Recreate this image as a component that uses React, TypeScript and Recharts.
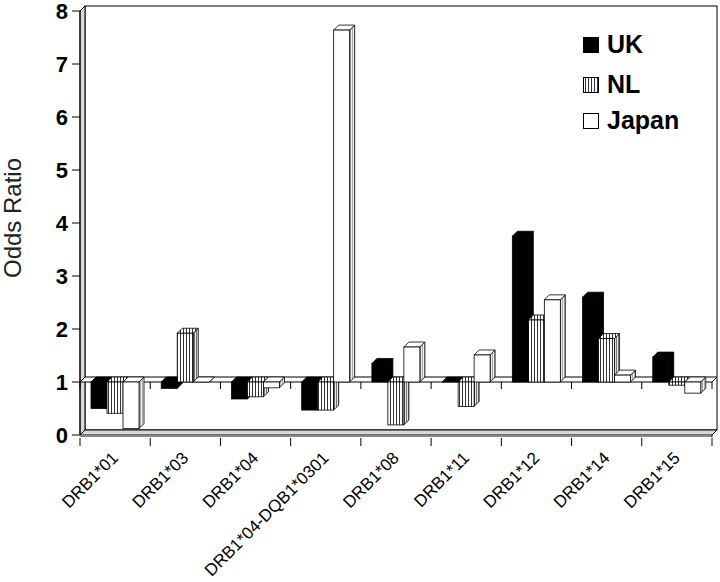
import React from 'react';
import { ComposedChart, Bar, XAxis, YAxis, ReferenceArea, ReferenceLine } from 'recharts';

const categories = ['DRB1*01', 'DRB1*03', 'DRB1*04', 'DRB1*04-DQB1*0301', 'DRB1*08', 'DRB1*11', 'DRB1*12', 'DRB1*14', 'DRB1*15'];
const ukValues = [0.5, 0.88, 0.68, 0.47, 1.35, 1.0, 3.75, 2.6, 1.47];
const nlValues = [0.41, 1.92, 0.72, 0.47, 0.19, 0.54, 2.17, 1.82, 0.94];
const japanValues = [0.12, 1.0, 0.89, 7.64, 1.66, 1.51, 2.55, 1.13, 0.79];
const yTicks = [0, 1, 2, 3, 4, 5, 6, 7, 8];
const seriesNames = ['UK', 'NL', 'Japan'];
const BASE_VALUE = 1;

const W = 720;
const H = 582;
const MARGIN = { top: 11, right: 8, bottom: 0, left: 0 };
const Y_AXIS_W = 80;
const X_AXIS_H = 147;
const PLOT_W = W - MARGIN.left - MARGIN.right - Y_AXIS_W;
const BAND = PLOT_W / categories.length;
const D = 5;
const FONT = '"Liberation Sans", Arial, Helvetica, sans-serif';

const toRange = (v: number) => [Math.min(BASE_VALUE, v), Math.max(BASE_VALUE, v)];
const data = categories.map((c, i) => ({
  category: c,
  UK: toRange(ukValues[i]),
  NL: toRange(nlValues[i]),
  Japan: toRange(japanValues[i]),
}));

const make3D = (front: string, side: string, top: string) => (props: any) => {
  const { x, y, width, height } = props;
  if (x == null || y == null || width == null) return <g />;
  const h = Math.max(0, height || 0);
  return (
    <g>
      <polygon
        points={`${x + width},${y} ${x + width + D},${y - D} ${x + width + D},${y + h - D} ${x + width},${y + h}`}
        fill={side}
        stroke="#000"
        strokeWidth={0.8}
      />
      <polygon
        points={`${x},${y} ${x + D},${y - D} ${x + width + D},${y - D} ${x + width},${y}`}
        fill={top}
        stroke="#000"
        strokeWidth={0.8}
      />
      <rect x={x} y={y} width={width} height={h} fill={front} stroke="#000" strokeWidth={0.8} />
    </g>
  );
};

const FrameShape = (props: any) => {
  const { x, y, width, height } = props;
  if (x == null) return <g />;
  return (
    <g>
      <rect x={x + D} y={y - D} width={width} height={height} fill="#fff" stroke="#000" strokeWidth={1} />
      <polygon
        points={`${x},${y} ${x + D},${y - D} ${x + D},${y + height - D} ${x},${y + height}`}
        fill="#d9d9d9"
        stroke="#000"
        strokeWidth={1}
      />
      <polygon
        points={`${x},${y + height} ${x + D},${y + height - D} ${x + width + D},${y + height - D} ${x + width},${y + height}`}
        fill="#d9d9d9"
        stroke="#000"
        strokeWidth={1}
      />
      <rect x={x} y={y + height} width={width} height={2} fill="#888" />
      <line x1={x + width} y1={y + height} x2={x + width} y2={y + height + 2} stroke="#000" />
    </g>
  );
};

const PlaneShape = (props: any) => {
  const { x1, y1, x2 } = props;
  if (x1 == null) return <g />;
  const ticks = [];
  for (let i = 0; i <= categories.length; i++) {
    const tx = x1 + ((x2 - x1) * i) / categories.length;
    ticks.push(<line key={i} x1={tx} y1={y1} x2={tx} y2={y1 + 7} stroke="#000" strokeWidth={1} />);
  }
  return (
    <g>
      <polygon
        points={`${x1},${y1} ${x1 + D},${y1 - D} ${x2 + D},${y1 - D} ${x2},${y1}`}
        fill="#fff"
        stroke="#000"
        strokeWidth={1}
      />
      {ticks}
    </g>
  );
};

const XTick = (props: any) => {
  const { x, y, payload, index } = props;
  const half = BAND / 2;
  const tx = x + 4;
  const ty = y + 24;
  return (
    <g>
      <line x1={x - half} y1={y + 3} x2={x - half} y2={y + 11} stroke="#000" />
      {index === categories.length - 1 && (
        <line x1={x + half} y1={y + 3} x2={x + half} y2={y + 11} stroke="#000" />
      )}
      <text
        x={tx}
        y={ty}
        textAnchor="end"
        transform={`rotate(-45 ${tx} ${ty})`}
        fontSize={17}
        fontFamily={FONT}
        fill="#000"
      >
        {payload.value}
      </text>
    </g>
  );
};

const YLabel = () => (
  <text
    x={21}
    y={218}
    transform="rotate(-90 21 218)"
    textAnchor="middle"
    fontSize={24}
    fontFamily={FONT}
    fill="#222"
  >
    Odds Ratio
  </text>
);

const legendFills = ['#000', 'url(#legStripes)', '#fff'];
const legendRows = [53, 93, 129];

const LegendOverlay = () => (
  <svg width={W} height={H} style={{ position: 'absolute', left: 0, top: 0, pointerEvents: 'none' }}>
    <defs>
      <pattern id="legStripes" width="3" height="4" patternUnits="userSpaceOnUse">
        <rect width="3" height="4" fill="#fff" />
        <rect x="0" width="1" height="4" fill="#333" />
      </pattern>
    </defs>
    {seriesNames.map((name, i) => (
      <g key={name}>
        <rect x={583.5} y={legendRows[i] - 15.5} width={15} height={15} fill={legendFills[i]} stroke="#000" strokeWidth={1} />
        <text x={607} y={legendRows[i]} fontSize={25} fontWeight="bold" fontFamily={FONT} fill="#000">
          {name}
        </text>
      </g>
    ))}
  </svg>
);

export default function App() {
  return (
    <div style={{ position: 'absolute', left: 0, top: 0, width: W, height: H, background: '#fff' }}>
      <ComposedChart width={W} height={H} data={data} margin={MARGIN} barGap={0} barSize={16}>
        <defs>
          <pattern id="nlStripes" width="3" height="4" patternUnits="userSpaceOnUse">
            <rect width="3" height="4" fill="#fff" />
            <rect x="0" width="1" height="4" fill="#333" />
          </pattern>
          <pattern id="nlSide" width="2" height="4" patternUnits="userSpaceOnUse">
            <rect width="2" height="4" fill="#e6e6e6" />
            <rect x="0" width="1" height="4" fill="#777" />
          </pattern>
          <pattern id="jpSide" width="2" height="4" patternUnits="userSpaceOnUse">
            <rect width="2" height="4" fill="#eee" />
            <rect x="0" width="1" height="4" fill="#aaa" />
          </pattern>
        </defs>
        <XAxis
          dataKey="category"
          height={X_AXIS_H}
          axisLine={false}
          tickLine={false}
          tickSize={0}
          tickMargin={0}
          interval={0}
          tick={<XTick />}
        />
        <YAxis
          width={Y_AXIS_W}
          domain={[0, 8]}
          ticks={yTicks}
          interval={0}
          axisLine={{ stroke: '#000', strokeWidth: 1 }}
          tickLine={{ stroke: '#000', strokeWidth: 1 }}
          tickSize={8}
          tickMargin={4}
          tick={{ fontSize: 22, fontWeight: 'bold', fontFamily: FONT, fill: '#000' }}
          label={{ content: () => <YLabel /> }}
        />
        <ReferenceArea y1={0} y2={8} shape={<FrameShape />} zIndex={0} ifOverflow="visible" />
        <ReferenceLine y={BASE_VALUE} shape={<PlaneShape />} zIndex={50} ifOverflow="visible" />
        <Bar dataKey="UK" isAnimationActive={false} shape={make3D('#000', '#000', '#000')} />
        <Bar dataKey="NL" isAnimationActive={false} shape={make3D('url(#nlStripes)', 'url(#nlSide)', 'url(#nlStripes)')} />
        <Bar dataKey="Japan" isAnimationActive={false} shape={make3D('#fff', 'url(#jpSide)', '#fff')} />
      </ComposedChart>
      <LegendOverlay />
    </div>
  );
}
